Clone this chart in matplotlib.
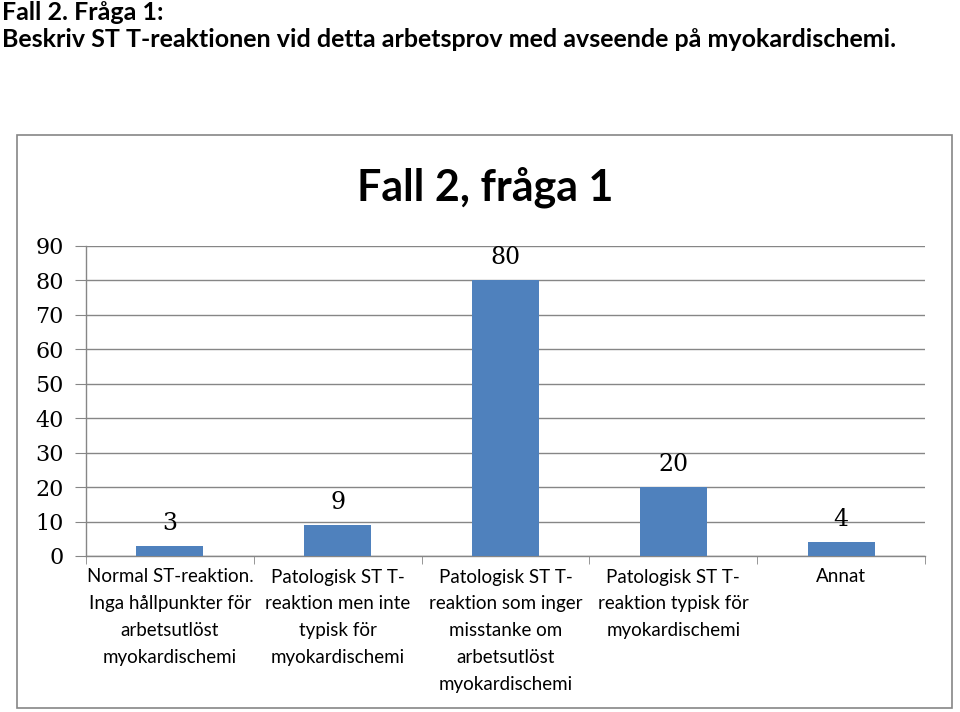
import matplotlib
matplotlib.use("Agg")
import matplotlib.pyplot as plt
from matplotlib.patches import Rectangle

categories = [
    "Normal ST-reaktion.\nInga hållpunkter för\narbetsutlöst\nmyokardischemi",
    "Patologisk ST T-\nreaktion men inte\ntypisk för\nmyokardischemi",
    "Patologisk ST T-\nreaktion som inger\nmisstanke om\narbetsutlöst\nmyokardischemi",
    "Patologisk ST T-\nreaktion typisk för\nmyokardischemi",
    "Annat",
]
values = [3, 9, 80, 20, 4]
yticks = list(range(0, 91, 10))
header = "Fall 2. Fråga 1:\nBeskriv ST T-reaktionen vid detta arbetsprov med avseende på myokardischemi."
title = "Fall 2, fråga 1"

W, H = 960, 712
fig = plt.figure(figsize=(W / 100, H / 100), dpi=100)

# header text
fig.text(2 / W, 1 - 1 / H, header, ha="left", va="top", fontsize=18,
         fontweight="bold", family=["Lato", "DejaVu Sans"], linespacing=1.2)

# chart frame
fig.patches.append(Rectangle((17 / W, 1 - 708 / H), (952 - 17) / W, (708 - 135) / H,
                             transform=fig.transFigure, fill=False,
                             edgecolor="#868686", linewidth=1.2))

fig.text(485 / W, 1 - 187 / H, title, ha="center", va="center", fontsize=31,
         fontweight="bold", family=["Lato", "DejaVu Sans"])

ax = fig.add_axes([86 / W, 1 - 556 / H, (925 - 86) / W, (556 - 246) / H])
x = list(range(len(values)))
bars = ax.bar(x, values, width=0.4, color="#4F81BD", zorder=3)
ax.set_xlim(-0.5, len(values) - 0.5)
ax.set_ylim(0, 90)
ax.set_yticks(yticks)
ax.set_yticklabels([str(v) for v in yticks], family="DejaVu Serif", fontsize=16)
ax.yaxis.grid(True, color="#868686", linewidth=1.0, zorder=0)
ax.set_xticks(x)
ax.set_xticklabels(categories, family=["Lato", "DejaVu Sans"], fontsize=13.5,
                   linespacing=1.7, va="top")
ax.tick_params(axis="x", length=0, pad=9)
ax.set_xticks([i - 0.5 for i in range(len(values) + 1)], minor=True)
ax.tick_params(axis="x", which="minor", length=6, color="#868686", direction="out")
ax.tick_params(axis="y", length=8, color="#868686", pad=8)
for s in ["top", "right"]:
    ax.spines[s].set_visible(False)
for s in ["left", "bottom"]:
    ax.spines[s].set_color("#868686")
    ax.spines[s].set_linewidth(1.0)
for xi, v in zip(x, values):
    ax.annotate(str(v), (xi, v), xytext=(0, 8), textcoords="offset points",
                ha="center", va="bottom", family="DejaVu Serif", fontsize=17)

fig.savefig("out.png", dpi=100)
